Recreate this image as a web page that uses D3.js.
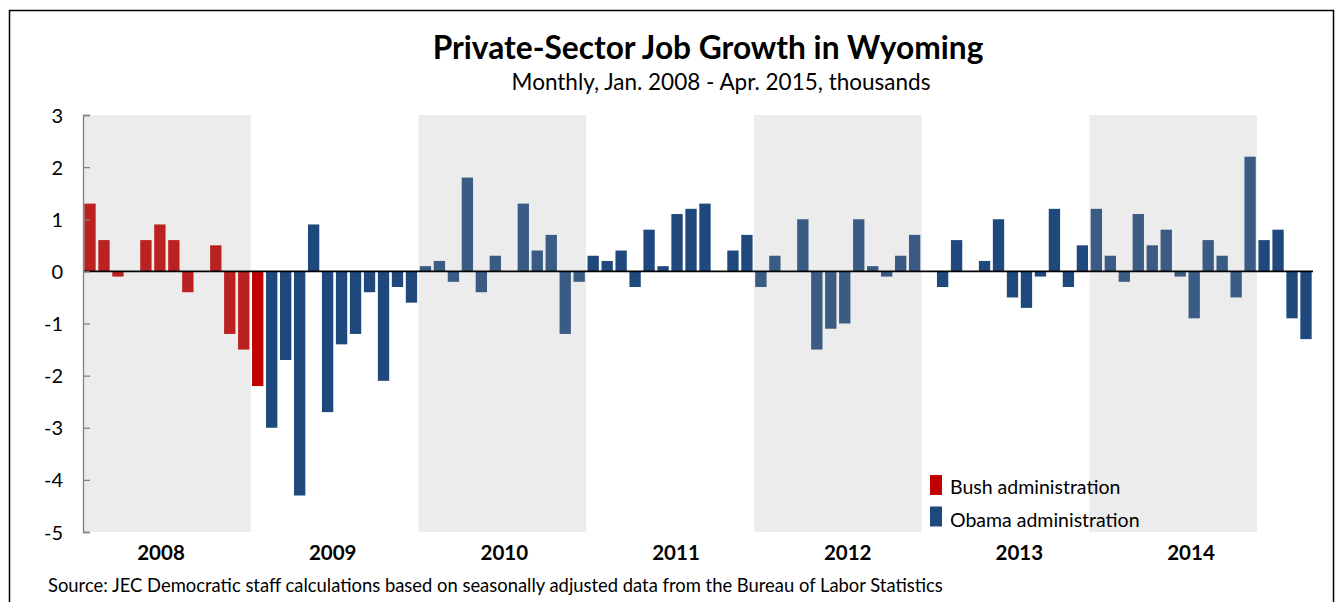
<!DOCTYPE html>
<html>
<head>
<meta charset="utf-8">
<script src="https://cdn.jsdelivr.net/npm/d3@7"></script>
<style>
  html, body { margin: 0; padding: 0; background: #fff; }
  svg { display: block; font-family: Lato, "Open Sans", sans-serif; }
</style>
</head>
<body>
<svg id="chart" width="1338" height="602"></svg>
<script>
// ---- Data ----
const years = ["2008", "2009", "2010", "2011", "2012", "2013", "2014", "2015"];
const shadedYears = ["2008", "2010", "2012", "2014"];
const labeledYears = ["2008", "2009", "2010", "2011", "2012", "2013", "2014"];
const values2008 = [1.3, 0.6, -0.1, 0, 0.6, 0.9, 0.6, -0.4, 0, 0.5, -1.2, -1.5];
const values2009 = [-2.2, -3.0, -1.7, -4.3, 0.9, -2.7, -1.4, -1.2, -0.4, -2.1, -0.3, -0.6];
const values2010 = [0.1, 0.2, -0.2, 1.8, -0.4, 0.3, 0, 1.3, 0.4, 0.7, -1.2, -0.2];
const values2011 = [0.3, 0.2, 0.4, -0.3, 0.8, 0.1, 1.1, 1.2, 1.3, 0, 0.4, 0.7];
const values2012 = [-0.3, 0.3, 0, 1.0, -1.5, -1.1, -1.0, 1.0, 0.1, -0.1, 0.3, 0.7];
const values2013 = [0, -0.3, 0.6, 0, 0.2, 1.0, -0.5, -0.7, -0.1, 1.2, -0.3, 0.5];
const values2014 = [1.2, 0.3, -0.2, 1.1, 0.5, 0.8, -0.1, -0.9, 0.6, 0.3, -0.5, 2.2];
const values2015 = [0.6, 0.8, -0.9, -1.3];
const yTicks = [3, 2, 1, 0, -1, -2, -3, -4, -5];
const lastBushMonth = "2009-01";
const legendItems = ["Bush administration", "Obama administration"];
const titleText = "Private-Sector Job Growth in Wyoming";
const subtitleText = "Monthly, Jan. 2008 - Apr. 2015, thousands";
const sourceText = "Source: JEC Democratic staff calculations based on seasonally adjusted data from the Bureau of Labor Statistics";

const valuesByYear = [values2008, values2009, values2010, values2011, values2012, values2013, values2014, values2015];
const data = [];
valuesByYear.forEach((arr, yi) => arr.forEach((v, mi) => {
  data.push({ month: years[yi] + "-" + String(mi + 1).padStart(2, "0"), year: years[yi], value: v });
}));
data.forEach(d => d.admin = d.month <= lastBushMonth ? "Bush" : "Obama");

// ---- Layout ----
const svg = d3.select("#chart");
const plot = { left: 83, right: 1313, top: 115, bottom: 532 };
const colors = { Bush: "#c00000", Obama: "#1f497d" };

const x = d3.scaleBand().domain(data.map(d => d.month))
  .range([plot.left, plot.right]).paddingInner(0.19).paddingOuter(0.095);
const xi = d3.scaleLinear().domain([0, data.length]).range([plot.left, plot.right]);
const y = d3.scaleLinear().domain([-5, 3]).range([plot.bottom, plot.top]);
const xLabel = d3.scalePoint().domain(labeledYears).range([161, 1191]);

// outer frame
svg.append("rect").attr("x", 9.5).attr("y", 10.5).attr("width", 1324).attr("height", 600)
  .attr("fill", "none").attr("stroke", "#000").attr("stroke-width", 1.5);

// bars
svg.append("g").selectAll("rect").data(data).join("rect")
  .attr("x", d => x(d.month))
  .attr("width", x.bandwidth())
  .attr("y", d => y(Math.max(0, d.value)))
  .attr("height", d => Math.abs(y(d.value) - y(0)))
  .attr("fill", d => colors[d.admin]);

// shaded year bands (translucent overlay)
svg.append("g").selectAll("rect").data(shadedYears).join("rect")
  .attr("x", d => xi(years.indexOf(d) * 12))
  .attr("width", d => xi(years.indexOf(d) * 12 + 12) - xi(years.indexOf(d) * 12))
  .attr("y", plot.top)
  .attr("height", plot.bottom - plot.top)
  .attr("fill", "rgb(162,162,162)").attr("fill-opacity", 0.205);

// zero line
svg.append("line").attr("x1", plot.left).attr("x2", plot.right)
  .attr("y1", y(0)).attr("y2", y(0)).attr("stroke", "#000").attr("stroke-width", 1.6);

// y axis
const yAxis = d3.axisLeft(y).tickValues(yTicks).tickSize(-7).tickPadding(20)
  .tickFormat(d => d < 0 ? "-" + Math.abs(d) : String(d));
const ga = svg.append("g").attr("transform", `translate(${plot.left},0)`).call(yAxis);
ga.select(".domain").attr("stroke", "#808080").attr("stroke-width", 1.3);
ga.selectAll(".tick line").attr("stroke", "#808080").attr("stroke-width", 1.3);
ga.selectAll(".tick text").attr("fill", "#000").style("font-size", "20px")
  .style("font-family", "Lato, sans-serif").attr("dy", "0.35em");

// year labels
svg.append("g").selectAll("text").data(labeledYears).join("text")
  .attr("x", d => xLabel(d)).attr("y", 560)
  .attr("text-anchor", "middle").style("font-weight", "bold").style("font-size", "20.5px")
  .text(d => d);

// title
svg.append("text").attr("x", 708).attr("y", 59).attr("text-anchor", "middle")
  .style("font-weight", "bold").style("font-size", "31.7px").text(titleText);
svg.append("text").attr("x", 721).attr("y", 90).attr("text-anchor", "middle")
  .style("font-size", "22.5px").text(subtitleText);

// legend
const lg = svg.append("g").attr("transform", "translate(930,475)");
legendItems.forEach((t, i) => {
  const key = i === 0 ? "Bush" : "Obama";
  lg.append("rect").attr("x", 0).attr("y", i * 31.5).attr("width", 12).attr("height", 20)
    .attr("fill", colors[key]);
  lg.append("text").attr("x", 20).attr("y", i * 32.5 + 19).style("font-size", "19.5px").text(t);
});

// source
svg.append("text").attr("x", 48).attr("y", 592).style("font-size", "18.4px").text(sourceText);
</script>
</body>
</html>
